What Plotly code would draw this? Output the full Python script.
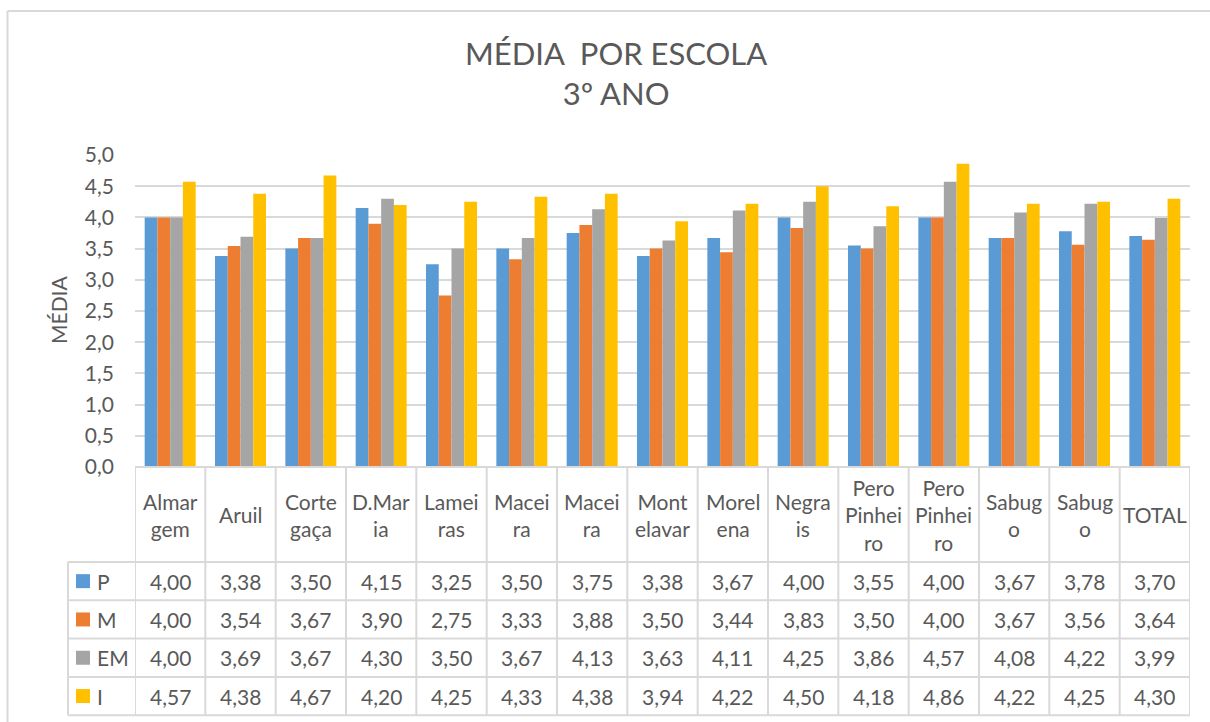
import plotly.graph_objects as go

# data
schools = ["Almargem", "Aruil", "Cortegaça", "D.Maria", "Lameiras", "Maceira", "Maceira",
           "Montelavar", "Morelena", "Negrais", "Pero Pinheiro", "Pero Pinheiro",
           "Sabugo", "Sabugo", "TOTAL"]
header_labels = ["Almar<br>gem", "Aruil", "Corte<br>gaça", "D.Mar<br>ia", "Lamei<br>ras",
                 "Macei<br>ra", "Macei<br>ra", "Mont<br>elavar", "Morel<br>ena", "Negra<br>is",
                 "Pero<br>Pinhei<br>ro", "Pero<br>Pinhei<br>ro", "Sabug<br>o", "Sabug<br>o", "TOTAL"]
series_names = ["P", "M", "EM", "I"]
p_vals = [4.00, 3.38, 3.50, 4.15, 3.25, 3.50, 3.75, 3.38, 3.67, 4.00, 3.55, 4.00, 3.67, 3.78, 3.70]
m_vals = [4.00, 3.54, 3.67, 3.90, 2.75, 3.33, 3.88, 3.50, 3.44, 3.83, 3.50, 4.00, 3.67, 3.56, 3.64]
em_vals = [4.00, 3.69, 3.67, 4.30, 3.50, 3.67, 4.13, 3.63, 4.11, 4.25, 3.86, 4.57, 4.08, 4.22, 3.99]
i_vals = [4.57, 4.38, 4.67, 4.20, 4.25, 4.33, 4.38, 3.94, 4.22, 4.50, 4.18, 4.86, 4.22, 4.25, 4.30]
colors = ["#5B9BD5", "#ED7D31", "#A5A5A5", "#FFC000"]

all_vals = [p_vals, m_vals, em_vals, i_vals]

W, H = 1210, 722
L, R, T, B = 135, 1190, 155, 467   # plot area in pixels
TXT = "#595959"
GRID = "#D9D9D9"
FONT = "Lato"


def px(X):
    return (X - L) / (R - L)


def py(Y):
    return (B - Y) / (B - T)


xs = list(range(len(schools)))

fig = go.Figure()
for name, vals, col in zip(series_names, all_vals, colors):
    fig.add_trace(go.Bar(x=xs, y=vals, name=name, marker=dict(color=col, line_width=0),
                         hovertext=schools))

shapes = []
annotations = []

# chart frame (only top and left edges are visible)
shapes.append(dict(type="line", xref="paper", yref="paper", x0=px(7.5), x1=px(1230),
                   y0=py(11), y1=py(11), line=dict(color=GRID, width=2)))
shapes.append(dict(type="line", xref="paper", yref="paper", x0=px(7.5), x1=px(7.5),
                   y0=py(11), y1=py(740), line=dict(color=GRID, width=2)))

# data table
header_bottom = 562
row_h = 38.3
rows_y = [header_bottom + k * row_h for k in range(5)]
table_bottom = rows_y[-1]

# axis line / table top
shapes.append(dict(type="line", xref="paper", yref="paper", x0=0, x1=1, y0=0, y1=0,
                   line=dict(color=GRID, width=2)))
for yy in rows_y:
    shapes.append(dict(type="line", xref="paper", yref="paper", x0=px(68), x1=1,
                       y0=py(yy), y1=py(yy), line=dict(color=GRID, width=2)))
for k in range(len(xs) + 1):
    shapes.append(dict(type="line", xref="x", yref="paper", x0=k - 0.5, x1=k - 0.5,
                       y0=0, y1=py(table_bottom), line=dict(color=GRID, width=2)))
shapes.append(dict(type="line", xref="paper", yref="paper", x0=px(68), x1=px(68),
                   y0=py(header_bottom), y1=py(table_bottom), line=dict(color=GRID, width=2)))

for k, lab in enumerate(header_labels):
    annotations.append(dict(x=k, xref="x", y=py((B + header_bottom) / 2), yref="paper",
                            text=lab, showarrow=False, yanchor="middle",
                            font=dict(family=FONT, size=21, color=TXT)))

for r, (name, vals, col) in enumerate(zip(series_names, all_vals, colors)):
    yc = (rows_y[r] + rows_y[r + 1]) / 2
    shapes.append(dict(type="rect", xref="paper", yref="paper", x0=px(76), x1=px(90),
                       y0=py(yc - 7), y1=py(yc + 7), fillcolor=col, line_width=0))
    annotations.append(dict(x=px(95), xref="paper", y=py(yc), yref="paper", text=name,
                            showarrow=False, xanchor="left", yanchor="middle",
                            font=dict(family=FONT, size=21, color=TXT)))
    for k, v in enumerate(vals):
        annotations.append(dict(x=k, xref="x", y=py(yc), yref="paper",
                                text=f"{v:.2f}".replace(".", ","), showarrow=False,
                                yanchor="middle", font=dict(family=FONT, size=21, color=TXT)))

# title
annotations.append(dict(x=px(616), xref="paper", y=py(73), yref="paper",
                        text="MÉDIA  POR ESCOLA<br>3º ANO", showarrow=False,
                        yanchor="middle", font=dict(family=FONT, size=31, color=TXT)))
# y axis title
annotations.append(dict(x=px(58), xref="paper", y=py(310), yref="paper", text="MÉDIA",
                        textangle=-90, showarrow=False, xanchor="center", yanchor="middle",
                        font=dict(family=FONT, size=21, color=TXT)))

fig.update_layout(
    width=W, height=H,
    margin=dict(l=L, r=W - R, t=T, b=H - B, pad=0),
    paper_bgcolor="white", plot_bgcolor="white",
    barmode="group", bargap=0.275, bargroupgap=0,
    showlegend=False,
    separators=",.",
    font=dict(family=FONT, color=TXT),
    shapes=shapes,
    annotations=annotations,
)
fig.update_xaxes(range=[-0.5, len(xs) - 0.5], showticklabels=False, showgrid=False,
                 zeroline=False, showline=False)
fig.update_yaxes(range=[0, 5], dtick=0.5, tickformat=".1f", showgrid=True, gridcolor=GRID,
                 gridwidth=2, zeroline=False, showline=False, ticklabelstandoff=20,
                 tickfont=dict(family=FONT, size=21, color=TXT))

# drop the default page margin so the figure fills the window
fig.write_html("out.html", config={"displayModeBar": False},
               post_script="document.body.style.margin='0';document.body.style.overflow='hidden';")
